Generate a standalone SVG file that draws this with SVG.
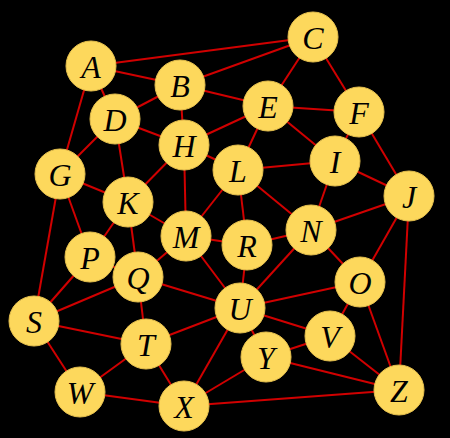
<svg xmlns="http://www.w3.org/2000/svg" width="450" height="438" viewBox="0 0 450 438">
<style>
.e{stroke:#d00000;stroke-width:2;}
.n circle{fill:#fdd85c;stroke:#e6c04e;stroke-width:1;}
.n text{font-family:"Liberation Serif","DejaVu Serif",serif;font-style:italic;font-size:32px;fill:#000;text-anchor:middle;dominant-baseline:central;}
</style>
<rect width="450" height="438" fill="#000"/>
<g id="edges">
<line class="e" x1="91" y1="66" x2="313" y2="37"/>
<line class="e" x1="91" y1="66" x2="180" y2="85"/>
<line class="e" x1="91" y1="66" x2="115" y2="119"/>
<line class="e" x1="91" y1="66" x2="60" y2="174"/>
<line class="e" x1="180" y1="85" x2="313" y2="37"/>
<line class="e" x1="180" y1="85" x2="115" y2="119"/>
<line class="e" x1="180" y1="85" x2="184" y2="145"/>
<line class="e" x1="180" y1="85" x2="268" y2="106"/>
<line class="e" x1="313" y1="37" x2="268" y2="106"/>
<line class="e" x1="313" y1="37" x2="359" y2="112"/>
<line class="e" x1="115" y1="119" x2="184" y2="145"/>
<line class="e" x1="115" y1="119" x2="60" y2="174"/>
<line class="e" x1="115" y1="119" x2="128" y2="202"/>
<line class="e" x1="268" y1="106" x2="359" y2="112"/>
<line class="e" x1="268" y1="106" x2="184" y2="145"/>
<line class="e" x1="268" y1="106" x2="238" y2="170"/>
<line class="e" x1="268" y1="106" x2="335" y2="161"/>
<line class="e" x1="359" y1="112" x2="335" y2="161"/>
<line class="e" x1="359" y1="112" x2="409" y2="196"/>
<line class="e" x1="60" y1="174" x2="128" y2="202"/>
<line class="e" x1="60" y1="174" x2="90" y2="257"/>
<line class="e" x1="60" y1="174" x2="34" y2="321"/>
<line class="e" x1="184" y1="145" x2="238" y2="170"/>
<line class="e" x1="184" y1="145" x2="128" y2="202"/>
<line class="e" x1="184" y1="145" x2="186" y2="236"/>
<line class="e" x1="335" y1="161" x2="238" y2="170"/>
<line class="e" x1="335" y1="161" x2="409" y2="196"/>
<line class="e" x1="335" y1="161" x2="311" y2="230"/>
<line class="e" x1="409" y1="196" x2="311" y2="230"/>
<line class="e" x1="409" y1="196" x2="360" y2="282"/>
<line class="e" x1="409" y1="196" x2="399" y2="390"/>
<line class="e" x1="128" y1="202" x2="90" y2="257"/>
<line class="e" x1="128" y1="202" x2="138" y2="277"/>
<line class="e" x1="128" y1="202" x2="186" y2="236"/>
<line class="e" x1="238" y1="170" x2="186" y2="236"/>
<line class="e" x1="238" y1="170" x2="247" y2="245"/>
<line class="e" x1="238" y1="170" x2="311" y2="230"/>
<line class="e" x1="186" y1="236" x2="138" y2="277"/>
<line class="e" x1="186" y1="236" x2="247" y2="245"/>
<line class="e" x1="186" y1="236" x2="240" y2="308"/>
<line class="e" x1="311" y1="230" x2="247" y2="245"/>
<line class="e" x1="311" y1="230" x2="240" y2="308"/>
<line class="e" x1="311" y1="230" x2="360" y2="282"/>
<line class="e" x1="360" y1="282" x2="240" y2="308"/>
<line class="e" x1="360" y1="282" x2="330" y2="336"/>
<line class="e" x1="360" y1="282" x2="399" y2="390"/>
<line class="e" x1="90" y1="257" x2="34" y2="321"/>
<line class="e" x1="90" y1="257" x2="138" y2="277"/>
<line class="e" x1="138" y1="277" x2="34" y2="321"/>
<line class="e" x1="138" y1="277" x2="146" y2="344"/>
<line class="e" x1="138" y1="277" x2="240" y2="308"/>
<line class="e" x1="247" y1="245" x2="240" y2="308"/>
<line class="e" x1="34" y1="321" x2="146" y2="344"/>
<line class="e" x1="34" y1="321" x2="80" y2="392"/>
<line class="e" x1="146" y1="344" x2="80" y2="392"/>
<line class="e" x1="146" y1="344" x2="184" y2="406"/>
<line class="e" x1="146" y1="344" x2="240" y2="308"/>
<line class="e" x1="240" y1="308" x2="330" y2="336"/>
<line class="e" x1="240" y1="308" x2="266" y2="357"/>
<line class="e" x1="240" y1="308" x2="184" y2="406"/>
<line class="e" x1="330" y1="336" x2="266" y2="357"/>
<line class="e" x1="330" y1="336" x2="399" y2="390"/>
<line class="e" x1="266" y1="357" x2="399" y2="390"/>
<line class="e" x1="266" y1="357" x2="184" y2="406"/>
<line class="e" x1="184" y1="406" x2="399" y2="390"/>
<line class="e" x1="184" y1="406" x2="80" y2="392"/>
</g>
<g id="A" class="n"><circle cx="91" cy="66" r="25"/><text x="91" y="67">A</text></g>
<g id="B" class="n"><circle cx="180" cy="85" r="25"/><text x="180" y="86">B</text></g>
<g id="C" class="n"><circle cx="313" cy="37" r="25"/><text x="313" y="38">C</text></g>
<g id="D" class="n"><circle cx="115" cy="119" r="25"/><text x="115" y="120">D</text></g>
<g id="E" class="n"><circle cx="268" cy="106" r="25"/><text x="268" y="107">E</text></g>
<g id="F" class="n"><circle cx="359" cy="112" r="25"/><text x="359" y="113">F</text></g>
<g id="G" class="n"><circle cx="60" cy="174" r="25"/><text x="60" y="175">G</text></g>
<g id="H" class="n"><circle cx="184" cy="145" r="25"/><text x="184" y="146">H</text></g>
<g id="I" class="n"><circle cx="335" cy="161" r="25"/><text x="335" y="162">I</text></g>
<g id="J" class="n"><circle cx="409" cy="196" r="25"/><text x="409" y="197">J</text></g>
<g id="K" class="n"><circle cx="128" cy="202" r="25"/><text x="128" y="203">K</text></g>
<g id="L" class="n"><circle cx="238" cy="170" r="25"/><text x="238" y="171">L</text></g>
<g id="M" class="n"><circle cx="186" cy="236" r="25"/><text x="186" y="237">M</text></g>
<g id="N" class="n"><circle cx="311" cy="230" r="25"/><text x="311" y="231">N</text></g>
<g id="O" class="n"><circle cx="360" cy="282" r="25"/><text x="360" y="283">O</text></g>
<g id="P" class="n"><circle cx="90" cy="257" r="25"/><text x="90" y="258">P</text></g>
<g id="Q" class="n"><circle cx="138" cy="277" r="25"/><text x="138" y="278">Q</text></g>
<g id="R" class="n"><circle cx="247" cy="245" r="25"/><text x="247" y="246">R</text></g>
<g id="S" class="n"><circle cx="34" cy="321" r="25"/><text x="34" y="322">S</text></g>
<g id="T" class="n"><circle cx="146" cy="344" r="25"/><text x="146" y="345">T</text></g>
<g id="U" class="n"><circle cx="240" cy="308" r="25"/><text x="240" y="309">U</text></g>
<g id="V" class="n"><circle cx="330" cy="336" r="25"/><text x="330" y="337">V</text></g>
<g id="W" class="n"><circle cx="80" cy="392" r="25"/><text x="80" y="393">W</text></g>
<g id="X" class="n"><circle cx="184" cy="406" r="25"/><text x="184" y="407">X</text></g>
<g id="Y" class="n"><circle cx="266" cy="357" r="25"/><text x="266" y="358">Y</text></g>
<g id="Z" class="n"><circle cx="399" cy="390" r="25"/><text x="399" y="391">Z</text></g>
</svg>
